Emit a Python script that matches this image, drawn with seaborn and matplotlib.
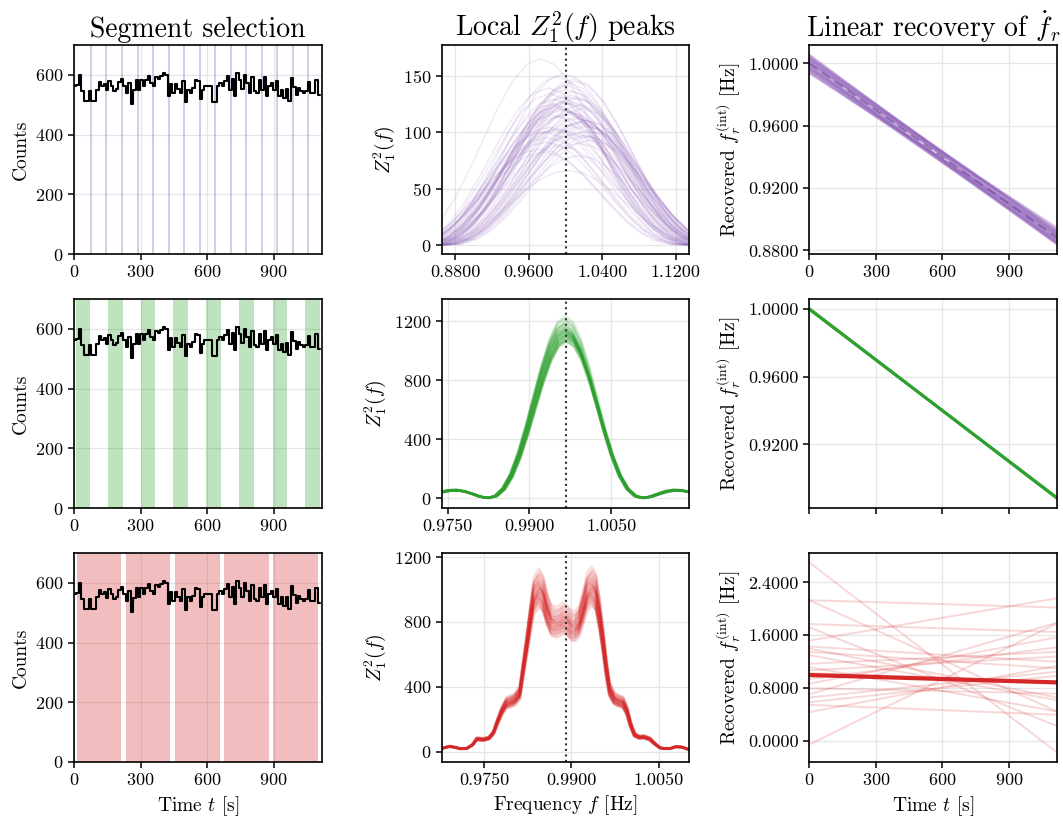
import numpy as np
import pandas as pd
import matplotlib
matplotlib.use("Agg")
import matplotlib.pyplot as plt
from matplotlib.ticker import FormatStrFormatter, FixedLocator
import seaborn as sns

# ---------------- light curve (shared by all rows) ----------------
BIN_WIDTH = 11.1
counts = [562, 565, 600, 545, 512, 512, 545, 512, 512, 551,
          575, 564, 570, 548, 579, 562, 545, 553, 575, 587,
          564, 540, 573, 504, 548, 584, 551, 584, 562, 584,
          596, 573, 562, 593, 587, 596, 607, 601, 528, 568,
          540, 568, 553, 540, 579, 508, 551, 540, 556, 584,
          579, 519, 551, 562, 562, 562, 508, 508, 562, 573,
          562, 579, 596, 551, 587, 528, 607, 584, 553, 601,
          573, 540, 593, 545, 540, 584, 551, 593, 528, 562,
          573, 551, 579, 530, 551, 523, 553, 512, 590, 559,
          534, 556, 545, 540, 545, 575, 540, 540, 584, 534]
T_END = 1117.0

# segment selections (start time, duration) for each scheme
seg_narrow_centres = [75, 146, 215, 287, 357, 427, 496, 567, 636, 706, 776, 846, 916, 988, 1057]
seg_narrow_width = 9.0
seg_medium_starts = [8, 154, 301, 448, 597, 746, 896, 1043]
seg_medium_width = 66.0
seg_long_starts = [12, 233, 457, 678, 898]
seg_long_width = 202.0

# ---------------- Z1^2 peak profiles ----------------
# main lobe + first side lobe, sampled every 0.1 lobe half-widths (one side)
sinc_profile = [1.0, 0.9675, 0.8751, 0.7368, 0.5729, 0.4053, 0.2546, 0.1353, 0.0547, 0.0119,
                0.0, 0.0080, 0.0243, 0.0392, 0.0468, 0.0450, 0.0358, 0.0229, 0.0108, 0.0027, 0.0]

purple_centre = 1.0
purple_halfwidth = 0.155
purple_peak = [118, 102, 131, 95, 124, 141, 88, 110, 127, 99,
               115, 136, 82, 121, 107, 149, 93, 126, 112, 104,
               133, 119, 97, 145, 85, 128, 109, 122, 138, 101,
               114, 91, 130, 117, 152, 106, 125, 98, 120, 79,
               134, 111, 103, 143, 123, 96, 116, 129, 108, 66,
               139, 113, 100, 126, 165, 90, 121, 132, 105, 147]
purple_shift_mhz = [4, -12, 9, -20, 15, 2, -6, 22, -3, 11,
                    -15, 7, -25, 18, 0, -9, 27, -1, 13, -18,
                    6, -4, 20, 10, -28, 3, 16, -11, 1, 24,
                    -7, -22, 12, 5, -2, 19, -14, 8, -5, 14,
                    -17, 21, -8, 4, -10, 25, 2, -13, 17, 3,
                    -19, 10, -24, 7, -27, 15, -6, 0, 23, 9]

green_centre = 0.9966
green_halfwidth = 0.0142
green_peak = [1105, 1142, 1078, 1190, 1121, 1063, 1160, 1098, 1135, 1212,
              1087, 1150, 1118, 1071, 1178, 1109, 1129, 1235, 1094, 1166,
              1113, 1082, 1147, 1201, 1125, 1058, 1172, 1101, 1138, 1090,
              1156, 1117, 1222, 1075, 1132, 1184, 1106, 1145, 1068, 1126]
green_shift_mhz = [0.1, -0.2, 0.3, 0.0, -0.1, 0.2, -0.3, 0.1, 0.0, -0.2,
                   0.2, -0.1, 0.3, 0.0, -0.3, 0.1, -0.2, 0.0, 0.2, -0.1,
                   0.1, 0.3, -0.2, 0.0, -0.1, 0.2, -0.3, 0.1, 0.0, 0.2,
                   -0.2, 0.1, -0.1, 0.3, 0.0, -0.2, 0.2, -0.1, 0.1, 0.0]

red_centre = 0.98897
red_offset_mhz = [-21.5, -20.0, -19.0, -18.0, -17.0, -16.0, -15.3, -14.2, -13.2, -12.4,
                  -11.8, -11.0, -10.2, -9.5, -8.8, -7.9, -7.3, -6.7, -6.1, -5.5,
                  -4.6, -3.9, -3.2, -2.5, -1.8, -1.0, -0.4, 0.3, 1.0, 1.6,
                  2.3, 3.0, 3.7, 4.5, 5.2, 5.9, 6.5, 7.0, 7.6, 8.4,
                  9.1, 9.9, 10.6, 11.2, 11.9, 12.7, 13.5, 14.5, 15.4, 16.3,
                  17.2, 18.1, 19.0, 20.0, 21.5]
red_profile = [20, 34, 28, 19, 22, 45, 80, 76, 85, 120,
               180, 250, 300, 308, 320, 360, 510, 654, 808, 953,
               1000, 965, 870, 805, 790, 800, 815, 800, 770, 765,
               795, 880, 975, 1010, 975, 830, 670, 520, 380, 325,
               312, 302, 250, 170, 105, 90, 92, 80, 50, 25,
               20, 22, 32, 30, 12]
red_scale = [1.00, 0.95, 1.05, 0.92, 1.08, 0.98, 1.03, 0.90, 1.11, 0.97,
             1.02, 0.94, 1.06, 0.99, 0.91, 1.04, 0.96, 1.09, 1.01, 0.93,
             1.07, 0.98, 1.00, 0.95, 1.13, 0.89, 1.03, 0.97, 1.05, 0.94,
             1.01, 0.96, 1.10, 0.92, 1.02, 0.99]
red_shift_mhz = [0.0, 0.1, -0.1, 0.05, -0.05, 0.15, -0.15, 0.0, 0.1, -0.1,
                 0.05, -0.05, 0.0, 0.12, -0.12, 0.08, -0.08, 0.0, 0.1, -0.1,
                 0.05, -0.05, 0.15, -0.15, 0.0, 0.1, -0.1, 0.05, -0.05, 0.0,
                 0.12, -0.12, 0.08, -0.08, 0.0, 0.06]

# ---------------- linear fits of the recovered frequency ----------------
true_f0 = 1.0
true_f_end = 0.8883  # value at T_END

purple_fit_start = [1.0012, 0.9978, 1.0035, 0.9951, 1.0048, 0.9995, 1.0021, 0.9964, 1.0057, 0.9987,
                    1.0006, 0.9942, 1.0029, 0.9972, 1.0041, 0.9958, 1.0016, 0.9983, 1.0052, 0.9936,
                    1.0002, 0.9969, 1.0025, 0.9990, 1.0038, 0.9947, 1.0010, 0.9976, 1.0033, 0.9961]
purple_fit_end = [0.8890, 0.8872, 0.8915, 0.8903, 0.8862, 0.8927, 0.8843, 0.8948, 0.8879, 0.8851,
                  0.8936, 0.8896, 0.8868, 0.8840, 0.8910, 0.8884, 0.8922, 0.8858, 0.8900, 0.8912,
                  0.8847, 0.8874, 0.8931, 0.8838, 0.8905, 0.8861, 0.8918, 0.8850, 0.8892, 0.8856]

green_fit_start = [1.0002, 0.9998, 1.0001, 0.9999, 1.0003, 0.9997, 1.0000, 1.0002, 0.9999, 1.0001]
green_fit_end = [0.8881, 0.8885, 0.8882, 0.8884, 0.8880, 0.8886, 0.8883, 0.8881, 0.8884, 0.8882]

red_fit_start = [2.70, 2.13, 2.13, 1.77, 1.72, 1.52, 1.43, 1.40, 1.35, 1.30,
                 1.17, 1.12, 1.07, 1.03, 0.94, 0.87, 0.80, 0.71, 0.66, 0.59,
                 0.55, 0.44, -0.05]
red_fit_end = [-0.17, 2.02, 0.45, 1.65, 0.23, 2.16, 1.20, 0.66, 1.10, 0.62,
               1.35, 0.45, 1.28, 0.90, 1.42, 1.57, 0.72, 1.79, 1.05, 0.99,
               0.40, 1.14, 1.78]

PURPLE = "#9467bd"
GREEN = "#2ca02c"
RED = "#d62728"

# ---------------- style ----------------
sns.set_theme(style="ticks")
plt.rcParams.update({
    "font.family": "serif",
    "font.serif": ["cmr10"],
    "mathtext.fontset": "cm",
    "axes.unicode_minus": False,
    "axes.formatter.use_mathtext": True,
    "axes.edgecolor": "black",
    "axes.linewidth": 1.2,
    "xtick.color": "black",
    "ytick.color": "black",
    "xtick.labelsize": 13,
    "ytick.labelsize": 13,
    "axes.labelsize": 14,
    "axes.titlesize": 20,
    "xtick.major.width": 1.1,
    "ytick.major.width": 1.1,
    "xtick.major.size": 4,
    "ytick.major.size": 4,
    "text.color": "black",
    "axes.labelcolor": "black",
})

fig, axes = plt.subplots(3, 3, figsize=(10.63, 8.19), dpi=100)
fig.subplots_adjust(left=0.0696, right=0.9944, top=0.945, bottom=0.0696,
                    wspace=0.484, hspace=0.215)

for ax in axes.flat:
    ax.grid(True, color="#e6e6e6", linewidth=0.9)
    ax.set_axisbelow(True)


def full_profile(half):
    half = np.asarray(half, dtype=float)
    y = np.concatenate([half[::-1], half[1:]])
    u = np.arange(-(len(half) - 1), len(half)) * 0.1
    return u, y


def peak_frame(centre, halfwidth, peaks, shifts_mhz):
    u, shape = full_profile(sinc_profile)
    parts = []
    for k, (p, s) in enumerate(zip(peaks, shifts_mhz)):
        parts.append(pd.DataFrame({
            "f": centre + s * 1e-3 + u * halfwidth,
            "z": p * shape,
            "curve": k,
        }))
    return pd.concat(parts, ignore_index=True)


def red_frame():
    offs = np.asarray(red_offset_mhz) * 1e-3
    prof = np.asarray(red_profile, dtype=float)
    parts = []
    for k, (sc, s) in enumerate(zip(red_scale, red_shift_mhz)):
        parts.append(pd.DataFrame({
            "f": red_centre + s * 1e-3 + offs,
            "z": sc * prof,
            "curve": k,
        }))
    return pd.concat(parts, ignore_index=True)


def fit_frame(starts, ends):
    parts = []
    for k, (a, b) in enumerate(zip(starts, ends)):
        parts.append(pd.DataFrame({"t": [0.0, T_END], "f": [a, b], "fit": k}))
    return pd.concat(parts, ignore_index=True)


# ---------------- left column: light curve and segments ----------------
n_bins = len(counts)
lc = pd.DataFrame({"t": (np.arange(n_bins) + 0.5) * BIN_WIDTH, "n": counts})
segments = [
    ([c - seg_narrow_width / 2 for c in seg_narrow_centres], seg_narrow_width, PURPLE, 0.35),
    (seg_medium_starts, seg_medium_width, GREEN, 0.3),
    (seg_long_starts, seg_long_width, RED, 0.3),
]
for row, (starts, width, col, a) in enumerate(segments):
    ax = axes[row, 0]
    for s in starts:
        ax.axvspan(s, s + width, color=col, alpha=a, linewidth=0)
    sns.histplot(data=lc, x="t", weights="n", binwidth=BIN_WIDTH,
                 binrange=(0, n_bins * BIN_WIDTH), element="step", fill=False,
                 color="black", linewidth=1.5, ax=ax)
    ax.set_xlim(0, T_END)
    ax.set_ylim(0, 700)
    ax.yaxis.set_major_locator(FixedLocator([0, 200, 400, 600]))
    ax.xaxis.set_major_locator(FixedLocator([0, 300, 600, 900]))
    ax.set_ylabel("Counts")
    ax.set_xlabel("")

# ---------------- middle column: Z1^2 peaks ----------------
ax = axes[0, 1]
sns.lineplot(data=peak_frame(purple_centre, purple_halfwidth, purple_peak, purple_shift_mhz),
             x="f", y="z", units="curve", estimator=None, color=PURPLE, alpha=0.13,
             linewidth=1.2, ax=ax)
ax.axvline(purple_centre, color="#333333", linestyle=":", linewidth=1.5)
ax.set_xlim(purple_centre - 0.135, purple_centre + 0.135)
ax.set_ylim(-8, 177)
ax.xaxis.set_major_locator(FixedLocator([0.88, 0.96, 1.04, 1.12]))
ax.yaxis.set_major_locator(FixedLocator([0, 50, 100, 150]))

ax = axes[1, 1]
sns.lineplot(data=peak_frame(green_centre, green_halfwidth, green_peak, green_shift_mhz),
             x="f", y="z", units="curve", estimator=None, color=GREEN, alpha=0.15,
             linewidth=1.6, ax=ax)
ax.axvline(green_centre, color="#333333", linestyle=":", linewidth=1.5)
ax.set_xlim(green_centre - 0.0227, green_centre + 0.0227)
ax.set_ylim(-68, 1350)
ax.xaxis.set_major_locator(FixedLocator([0.975, 0.990, 1.005]))
ax.yaxis.set_major_locator(FixedLocator([0, 400, 800, 1200]))

ax = axes[2, 1]
sns.lineplot(data=red_frame(), x="f", y="z", units="curve", estimator=None,
             color=RED, alpha=0.15, linewidth=1.6, ax=ax)
ax.axvline(red_centre, color="#333333", linestyle=":", linewidth=1.5)
ax.set_xlim(red_centre - 0.02135, red_centre + 0.02135)
ax.set_ylim(-62, 1225)
ax.xaxis.set_major_locator(FixedLocator([0.975, 0.990, 1.005]))
ax.yaxis.set_major_locator(FixedLocator([0, 400, 800, 1200]))

for ax in axes[:, 1]:
    ax.set_ylabel(r"$Z_1^2(f)$")
    ax.set_xlabel("")
    ax.xaxis.set_major_formatter(FormatStrFormatter("%.4f"))

# ---------------- right column: linear recovery ----------------
truth = pd.DataFrame({"t": [0.0, T_END], "f": [true_f0, true_f_end]})

ax = axes[0, 2]
sns.lineplot(data=fit_frame(purple_fit_start, purple_fit_end), x="t", y="f", units="fit",
             estimator=None, color=PURPLE, alpha=0.3, linewidth=1.5, ax=ax)
sns.lineplot(data=truth, x="t", y="f", color="#6b4a94", alpha=0.6, linewidth=1.4, ax=ax)
ax.lines[-1].set_dashes((5, 3))
ax.yaxis.set_major_locator(FixedLocator([0.88, 0.92, 0.96, 1.00]))

ax = axes[1, 2]
sns.lineplot(data=fit_frame(green_fit_start, green_fit_end), x="t", y="f", units="fit",
             estimator=None, color=GREEN, alpha=0.35, linewidth=2.0, ax=ax)
ax.yaxis.set_major_locator(FixedLocator([0.92, 0.96, 1.00]))
ax.tick_params(axis="x", labelbottom=False)

ax = axes[2, 2]
sns.lineplot(data=fit_frame(red_fit_start, red_fit_end), x="t", y="f", units="fit",
             estimator=None, color=RED, alpha=0.18, linewidth=1.4, ax=ax)
sns.lineplot(data=truth, x="t", y="f", color=RED, linewidth=3.0, ax=ax)
ax.yaxis.set_major_locator(FixedLocator([0.0, 0.8, 1.6, 2.4]))

for ax in axes[:, 2]:
    ax.set_xlim(0, T_END)
    ax.xaxis.set_major_locator(FixedLocator([0, 300, 600, 900]))
    ax.yaxis.set_major_formatter(FormatStrFormatter("%.4f"))
    ax.set_ylabel(r"Recovered $f_r^{(\mathrm{int})}$ [Hz]")
    ax.set_xlabel("")

# ---------------- titles and bottom labels ----------------
axes[0, 0].set_title("Segment selection", pad=6)
axes[0, 1].set_title(r"Local $Z_1^2(f)$ peaks", pad=6)
axes[0, 2].set_title(r"Linear recovery of $\dot{f}_r$", pad=6)
axes[2, 0].set_xlabel(r"Time $t$ [s]")
axes[2, 1].set_xlabel(r"Frequency $f$ [Hz]")
axes[2, 2].set_xlabel(r"Time $t$ [s]")

for ax in axes.flat:
    for sp in ax.spines.values():
        sp.set_color("black")
        sp.set_linewidth(1.2)

fig.savefig("out.png", dpi=100)
